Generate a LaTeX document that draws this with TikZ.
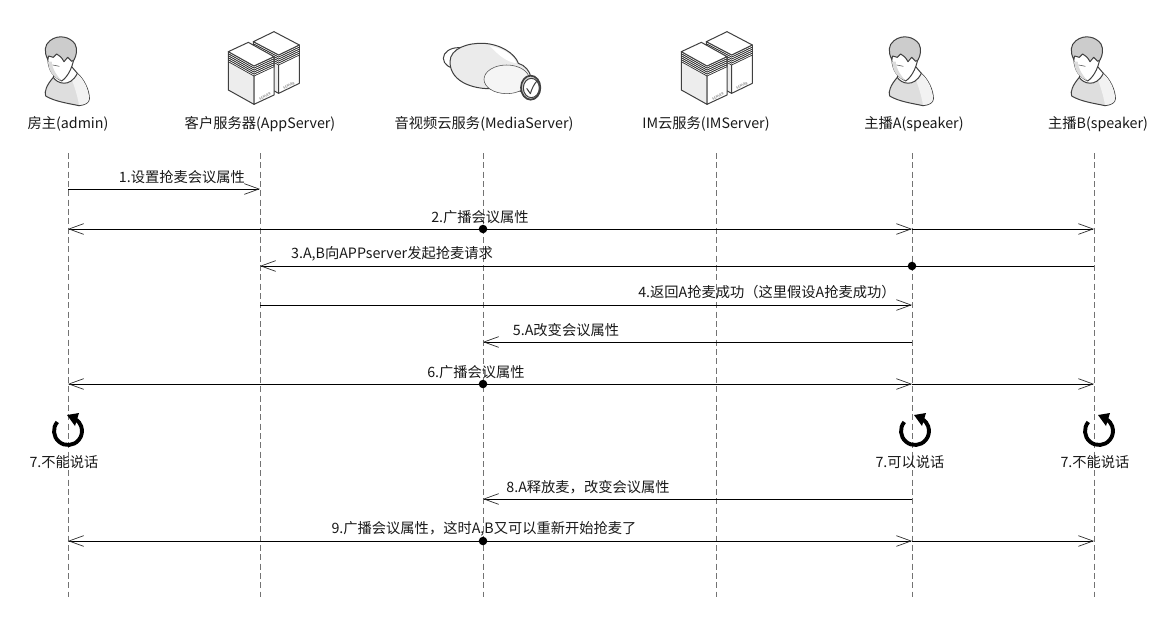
\documentclass[tikz,border=0pt]{standalone}
\usepackage{fontspec}
\setmainfont{Noto Sans CJK SC}
\usetikzlibrary{arrows.meta}
\definecolor{lifegray}{gray}{0.45}
\tikzset{
  x=0.75pt,y=-0.75pt,
  lifeline/.style={draw=lifegray,line width=0.75pt,dash pattern=on 4.5pt off 2.5pt},
  msg/.style={draw=black,line width=0.75pt},
  tipend/.style={-{Straight Barb[length=11pt,width=8pt,line width=0.5pt,black!85]}},
  tipboth/.style={{Straight Barb[length=11pt,width=8pt,line width=0.5pt,black!85]}-{Straight Barb[length=11pt,width=8pt,line width=0.5pt,black!85]}},
  txt/.style={font=\fontsize{10.7}{12}\selectfont,text=black!90,inner sep=0pt,anchor=center,yshift=-0.6pt},
  dot/.style={fill=black,circle,inner sep=0pt,minimum size=6.4pt},
  ink/.style={draw=black!75,line width=0.75pt,line join=round},
  inkthin/.style={draw=black!70,line width=0.4pt,line join=round},
  srvtext/.style={font=\fontsize{2.6}{3}\selectfont,text=black!60,inner sep=0pt},
}
% all icons are drawn in 3x zoomed pixel coordinates
\newcommand{\personicon}[1]{%
\begin{scope}[shift={(#1,20)},x=0.25pt,y=-0.25pt]
  % body
  \path[ink,fill=black!13] (160,172) .. controls (140,195) and (132,215) .. (137,228)
     .. controls (165,245) and (205,250) .. (237,257)
     .. controls (255,255) and (268,248) .. (268,236)
     .. controls (268,210) and (252,178) .. (232,160) -- cycle;
  \path[fill=black!5] (212,170) -- (232,161) .. controls (252,178) and (267,210) .. (267,236)
     .. controls (267,248) and (255,254) .. (237,255) .. controls (232,225) and (222,195) .. (212,170) -- cycle;
  % neck
  \path[ink,fill=white] (160,172) .. controls (170,190) and (210,205) .. (232,160) -- (215,140) -- (165,150) -- cycle;
  % face
  \path[ink,fill=white] (143,105) .. controls (143,140) and (150,165) .. (185,183)
     .. controls (205,170) and (222,135) .. (223,100) -- cycle;
  \path[fill=black!14] (144,125) .. controls (146,150) and (156,170) .. (184,182) .. controls (165,160) and (155,140) .. (155,125) -- cycle;
  \draw[inkthin] (158,135) -- (178,139);
  % hair
  \path[ink,fill=black!20] (143,118) .. controls (132,95) and (133,75) .. (150,62)
     .. controls (175,42) and (210,50) .. (225,72)
     .. controls (233,88) and (230,105) .. (222,120)
     -- (215,124) -- (203,112) -- (192,125) .. controls (185,112) and (178,106) .. (170,102)
     -- (160,112) -- (146,108) -- cycle;
\end{scope}}
% left corner x,y ; vector a ; vector b ; height
\newcommand{\servertower}[7]{%
\path[ink,fill=black!7] (#1,#2) -- ++(0,#7) -- ++(#3,#4) -- ++(0,-#7) -- cycle;
\path[ink,fill=white] (#1+#3,#2+#4) -- ++(0,#7) -- ++(#5,#6) -- ++(0,-#7) -- cycle;
\foreach \k in {5,4,3,2,1}{
  \path[inkthin,draw=black!85,line width=0.5pt,fill=white] (#1,#2+\k*6) -- ++(#3,#4) -- ++(#5,#6) -- ++(0,-6) -- ++(-#5,-#6) -- ++(-#3,-#4) -- cycle;
}
\path[ink,fill=white] (#1,#2) -- ++(#3,#4) -- ++(#5,#6) -- ++(-#3,-#4) -- cycle;
}
\newcommand{\servericon}[1]{%
\begin{scope}[shift={(#1,20)},x=0.25pt,y=-0.25pt]
  \servertower{760}{65}{76}{40}{62}{-30}{115}
  \node[srvtext,rotate=26] (srvb#1) at (867,197) {SERVER};
  \servertower{685}{95}{77}{43}{60}{-28}{115}
  \node[srvtext,rotate=26] (srvf#1) at (795,229) {SERVER};
\end{scope}}
\newcommand{\cycleicon}[1]{%
\begin{scope}[shift={(#1,431)}]
  \draw[black,line width=2.9pt] (0,0) ++(-140:14) arc[start angle=-140,end angle=-415,radius=14];
  \path[fill=black] (-1,-16) -- (11,-18) -- (7,-5) -- cycle;
\end{scope}}
\begin{document}
\begin{tikzpicture}
\useasboundingbox (0,0) rectangle (1165,621);
\path[fill=white] (0,0) rectangle (1165,621);
% lifelines
\foreach \n/\xx in {A/68,B/260,C/483,D/716,E/912,F/1094}{
  \coordinate (top\n) at (\xx,153);
  \coordinate (bot\n) at (\xx,597);
  \draw[lifeline] (top\n) -- (bot\n);
}
% icons
\personicon{0}
\servericon{0}
% cloud
\begin{scope}[shift={(400,20)},x=0.25pt,y=-0.25pt]
  \path[ink,fill=white] (175,115) ellipse[x radius=45,y radius=32];
  \path[ink,fill=black!8] (150,125) .. controls (150,85) and (205,68) .. (250,70)
     .. controls (300,72) and (345,100) .. (355,130)
     .. controls (375,135) and (390,155) .. (392,170) -- (365,215)
     .. controls (340,205) and (320,208) .. (295,205)
     .. controls (230,212) and (150,190) .. (150,125) -- cycle;
  \path[fill=white] (270,78) .. controls (310,85) and (340,105) .. (350,130) .. controls (320,125) and (300,110) .. (270,78) -- cycle;
  \path[inkthin,fill=black!4] (320,178) ellipse[x radius=68,y radius=43];
  \path[ink,line width=1.3pt,fill=black!15] (392,203) ellipse[x radius=29,y radius=36];
  \path[ink,fill=white] (394,204) ellipse[x radius=24,y radius=29];
  \draw[ink] (380,205) -- (391,221) .. controls (396,205) and (402,192) .. (412,182);
\end{scope}
\servericon{453}
\personicon{844}
\personicon{1026}
% head labels
\node[txt] (lblA) at (68,123) {房主(admin)};
\node[txt] (lblB) at (260,123) {客户服务器(AppServer)};
\node[txt] (lblC) at (484,123) {音视频云服务(MediaServer)};
\node[txt] (lblD) at (706,123) {IM云服务(IMServer)};
\node[txt] (lblE) at (914,123) {主播A(speaker)};
\node[txt] (lblF) at (1098,123) {主播B(speaker)};
% message rows
\foreach \m/\yy in {1/189,2/229,3/266,4/305,5/342,6/384,8/499,9/541}{
  \coordinate (row\m) at (0,\yy);
}
\draw[msg,tipend] (topA |- row1) -- (topB |- row1);
\node[txt] (m1) at (182,176) {1.设置抢麦会议属性};
% 2
\draw[msg,tipboth] (topA |- row2) -- (topE |- row2);
\draw[msg,tipend] (topE |- row2) -- (topF |- row2);
\node[dot] (d2) at (topC |- row2) {};
\node[txt] (m2) at (480,216) {2.广播会议属性};
% 3
\draw[msg,tipend] (topF |- row3) -- (topB |- row3);
\node[dot] (d3) at (topE |- row3) {};
\node[txt] (m3) at (392,253) {3.A,B向APPserver发起抢麦请求};
% 4
\draw[msg,tipend] (topB |- row4) -- (topE |- row4);
\node[txt] (m4) at (767,291) {4.返回A抢麦成功（这里假设A抢麦成功）};
% 5
\draw[msg,tipend] (topE |- row5) -- (topC |- row5);
\node[txt] (m5) at (566,329) {5.A改变会议属性};
% 6
\draw[msg,tipboth] (topA |- row6) -- (topE |- row6);
\draw[msg,tipend] (topE |- row6) -- (topF |- row6);
\node[dot] (d6) at (topC |- row6) {};
\node[txt] (m6) at (476,371) {6.广播会议属性};
% 7
\cycleicon{68}
\cycleicon{915}
\cycleicon{1099}
\node[txt] (s1) at (64,461) {7.不能说话};
\node[txt] (s2) at (910,461) {7.可以说话};
\node[txt] (s3) at (1095,461) {7.不能说话};
% 8
\draw[msg,tipend] (topE |- row8) -- (topC |- row8);
\node[txt] (m8) at (588,486) {8.A释放麦，改变会议属性};
% 9
\draw[msg,tipboth] (topA |- row9) -- (topE |- row9);
\draw[msg,tipend] (topE |- row9) -- (topF |- row9);
\node[dot] (d9) at (topC |- row9) {};
\node[txt] (m9) at (484,528) {9.广播会议属性，这时A,B又可以重新开始抢麦了};
\end{tikzpicture}
\end{document}
